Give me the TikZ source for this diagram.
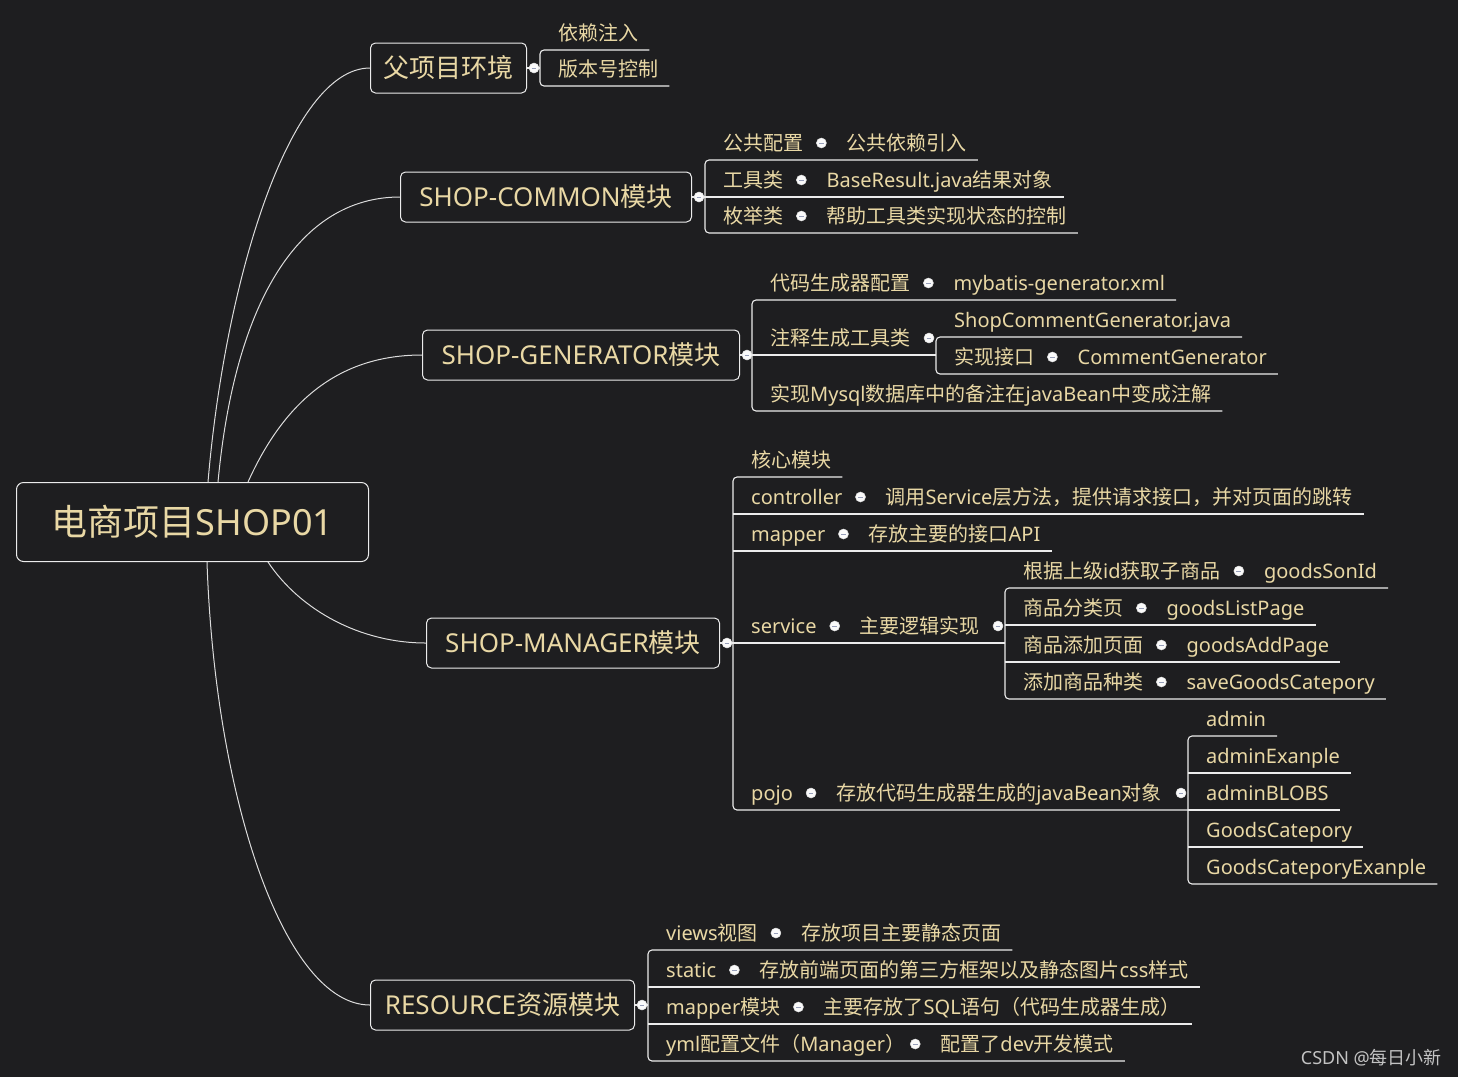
\documentclass[tikz,border=0pt]{standalone}
\usepackage{fontspec}
\setmainfont{Noto Sans CJK SC}
\newfontfamily\cjkfont{Noto Sans CJK SC}
\newfontfamily\latfont{Noto Sans}
\usetikzlibrary{calc}
\XeTeXinterchartokenstate=1
\newXeTeXintercharclass\CJKcls
\newcount\cjkcnt
\newcommand{\setcjkrange}[2]{\cjkcnt=#1\relax\loop\XeTeXcharclass\cjkcnt=\CJKcls\relax\ifnum\cjkcnt<#2\relax\advance\cjkcnt by 1\repeat}
\setcjkrange{"3000}{"303F}
\setcjkrange{"4E00}{"9FFF}
\setcjkrange{"FF00}{"FFEF}
\XeTeXinterchartoks 0 \CJKcls = {\cjkfont}
\XeTeXinterchartoks 4095 \CJKcls = {\cjkfont}
\XeTeXinterchartoks \CJKcls 0 = {\latfont}
\XeTeXinterchartoks 4095 0 = {\latfont}
\definecolor{bgc}{RGB}{30,30,32}
\definecolor{txtc}{RGB}{233,216,165}
\definecolor{lnc}{RGB}{236,236,236}
\definecolor{minusc}{RGB}{150,158,185}
\definecolor{wmc}{RGB}{195,195,195}
\newcommand{\rowends}[2]{%
  \coordinate (#1s) at ($(#1.base west)+(-18,10)$);
  \coordinate (#1e) at ($(#2.base east)+(11,10)$);}
\newcommand{\pairrow}[5]{%
  \node[lbl] (#1) at (#2,#3) {#4};
  \node[dot] (#1d) at ($(#1.base east)+(18,-7)$) {};
  \node[lbl] (#1c) at ($(#1d)+(25,7)$) {#5};
  \rowends{#1}{#1c}}
\newcommand{\singlerow}[4]{%
  \node[lbl] (#1) at (#2,#3) {#4};
  \rowends{#1}{#1}}
\begin{document}
\begin{tikzpicture}[x=1pt,y=-1pt,
  lbl/.style={anchor=base west, inner sep=0pt, text=txtc, font=\fontsize{20}{24}\selectfont},
  topic/.style={draw=lnc, line width=1pt, rounded corners=5pt, text=txtc,
    font=\fontsize{26}{30}\selectfont, text height=21pt, text depth=2pt,
    minimum height=50pt, inner xsep=4pt, anchor=west},
  rootbox/.style={draw=lnc, line width=1pt, rounded corners=7pt, text=txtc,
    font=\fontsize{36}{42}\selectfont, text height=29pt, text depth=2.5pt,
    minimum height=79pt, minimum width=352pt, anchor=north west},
  dot/.style={circle, fill=white!96!gray, draw=white!75!gray, line width=0.5pt, minimum size=10pt, inner sep=0pt,
    path picture={\draw[minusc, line width=1pt] ([xshift=-2.4pt]path picture bounding box.center) -- ([xshift=2.4pt]path picture bounding box.center);}},
  conn/.style={draw=lnc, line width=1.1pt},
  br/.style={draw=lnc, line width=1.1pt, rounded corners=4pt},
  curve/.style={draw=lnc!85!gray, line width=1pt},
]
\fill[bgc] (0,0) rectangle (1458,1077);
\useasboundingbox (0,0) rectangle (1458,1077);

% root and main topics
\node[rootbox] (root) at (16,482) {电商项目SHOP01};
\node[topic, minimum width=156pt] (p1) at (370,68) {父项目环境};
\node[topic, minimum width=291pt] (p2) at (400,197) {SHOP-COMMON模块};
\node[topic, minimum width=317pt] (p3) at (422,355) {SHOP-GENERATOR模块};
\node[topic, minimum width=293pt] (p4) at (426,643) {SHOP-MANAGER模块};
\node[topic, minimum width=264pt] (p5) at (370,1005) {RESOURCE资源模块};

\coordinate (rt1) at ($(root.north west)+(192,0)$);
\coordinate (rt2) at ($(root.north west)+(202,0)$);
\coordinate (rt3) at ($(root.north west)+(232,0)$);
\coordinate (rb4) at ($(root.south west)+(252,0)$);
\coordinate (rb5) at ($(root.south west)+(191,0)$);
\draw[curve] (rt1) .. controls (225,280) and (290,68) .. (p1.west);
\draw[curve] (rt2) .. controls (235,300) and (300,197) .. (p2.west);
\draw[curve] (rt3) .. controls (285,400) and (340,355) .. (p3.west);
\draw[curve] (rb4) .. controls (300,610) and (360,643) .. (p4.west);
\draw[curve] (rb5) .. controls (215,800) and (285,1005) .. (p5.west);

% parent project
\singlerow{a1}{558}{40}{依赖注入}
\singlerow{a2}{558}{76}{版本号控制}
\draw[br] (a1e) -- (a1s) -- (a2s) -- (a2e);
\draw[conn] (p1.east) -- (p1.east -| a1s);

% common
\pairrow{b1}{723}{150}{公共配置}{公共依赖引入}
\pairrow{b2}{723}{187}{工具类}{BaseResult.java结果对象}
\pairrow{b3}{723}{223}{枚举类}{帮助工具类实现状态的控制}
\draw[br] (b1e) -- (b1s) -- (b3s) -- (b3e);
\draw[conn] (b2s) -- (b2e);
\draw[conn] (p2.east) -- (p2.east -| b1s);

% generator
\pairrow{g1}{770}{290}{代码生成器配置}{mybatis-generator.xml}
\singlerow{g2}{770}{345}{注释生成工具类}
\singlerow{g21}{954}{327}{ShopCommentGenerator.java}
\pairrow{g22}{954}{364}{实现接口}{CommentGenerator}
\singlerow{g3}{770}{401}{实现Mysql数据库中的备注在javaBean中变成注解}
\draw[br] (g1e) -- (g1s) -- (g3s) -- (g3e);
\draw[br] (g21e) -- (g21s) -- (g22s) -- (g22e);
\draw[conn] (p3.east) -- (p3.east -| g21s);

% manager
\singlerow{m1}{751}{467}{核心模块}
\pairrow{m2}{751}{504}{controller}{调用Service层方法，提供请求接口，并对页面的跳转}
\pairrow{m3}{751}{541}{mapper}{存放主要的接口API}
\pairrow{m4}{751}{633}{service}{主要逻辑实现}
\pairrow{s1}{1023}{578}{根据上级id获取子商品}{goodsSonId}
\pairrow{s2}{1023}{615}{商品分类页}{goodsListPage}
\pairrow{s3}{1023}{652}{商品添加页面}{goodsAddPage}
\pairrow{s4}{1023}{689}{添加商品种类}{saveGoodsCatepory}
\pairrow{m5}{751}{800}{pojo}{存放代码生成器生成的javaBean对象}
\singlerow{q1}{1206}{726}{admin}
\singlerow{q2}{1206}{763}{adminExanple}
\singlerow{q3}{1206}{800}{adminBLOBS}
\singlerow{q4}{1206}{837}{GoodsCatepory}
\singlerow{q5}{1206}{874}{GoodsCateporyExanple}
\draw[br] (m1e) -- (m1s) -- (m5s) -- (m5s -| q1s);
\draw[conn] (m2s) -- (m2e);
\draw[conn] (m3s) -- (m3e);
\draw[br] (s1e) -- (s1s) -- (s4s) -- (s4e);
\draw[conn] (s2s) -- (s2e);
\draw[conn] (s3s) -- (s3e);
\draw[conn] (p4.east) -- (p4.east -| s1s);
\draw[br] (q1e) -- (q1s) -- (q5s) -- (q5e);
\draw[conn] (q2s) -- (q2e);
\draw[conn] (q3s) -- (q3e);
\draw[conn] (q4s) -- (q4e);

% resource
\pairrow{r1}{666}{940}{views视图}{存放项目主要静态页面}
\pairrow{r2}{666}{977}{static}{存放前端页面的第三方框架以及静态图片css样式}
\pairrow{r3}{666}{1014}{mapper模块}{主要存放了SQL语句（代码生成器生成）}
\pairrow{r4}{666}{1051}{yml配置文件（Manager）\kern-8pt}{配置了dev开发模式}
\draw[br] (r1e) -- (r1s) -- (r4s) -- (r4e);
\draw[conn] (r2s) -- (r2e);
\draw[conn] (r3s) -- (r3e);
\draw[conn] (p5.east) -- (p5.east -| r1s);

% collapse dots on top
\node[dot] (p1d) at ($(p1.east)+(7,0)$) {};
\node[dot] (p2d) at ($(p2.east)+(7,0)$) {};
\node[dot] (p3d) at ($(p3.east)+(7,0)$) {};
\node[dot] (p4d) at ($(p4.east)+(7,0)$) {};
\node[dot] (p5d) at ($(p5.east)+(7,0)$) {};
\node[dot] (g2d) at ($(g21s)+(-7,1)$) {};
\node[dot] (m4t) at ($(s1s)+(-7,38)$) {};
\node[dot] (m5t) at ($(q1s)+(-7,57)$) {};

% watermark
\node[anchor=base east, inner sep=0pt, text=wmc, font=\fontsize{18}{20}\selectfont] (wm) at (1442,1064) {CSDN @每日小新};
\end{tikzpicture}
\end{document}
